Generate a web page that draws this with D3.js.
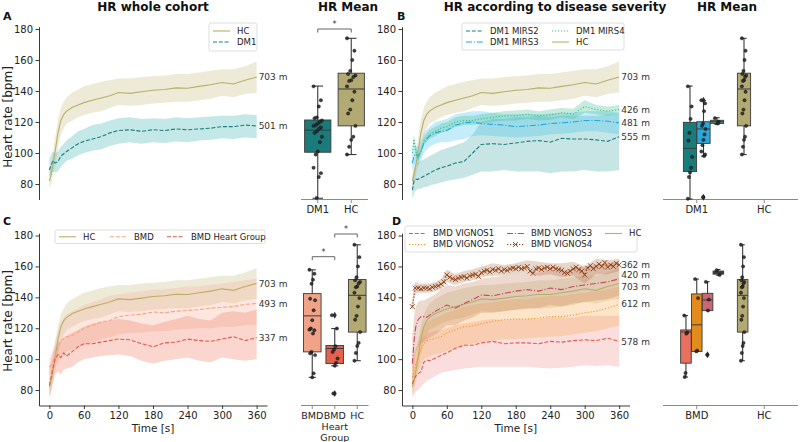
<!DOCTYPE html>
<html>
<head>
<meta charset="utf-8">
<script src="https://cdn.jsdelivr.net/npm/d3@7"></script>
<style>
  body { margin: 0; background: #fff; }
  svg { font-family: "DejaVu Sans", sans-serif; }
</style>
</head>
<body>
<div id="chart"></div>
<script>
// ---- time grids (s) ----
const T = [0, 3, 6, 10, 15, 20, 25, 30, 40, 50, 60, 75, 90, 105, 120, 140, 160, 180, 200, 220, 240, 260, 280, 300, 320, 340, 360];
const T5 = d3.range(0, 361, 5);
const yTicks = [80, 100, 120, 140, 160, 180];
const xTicks = [0, 60, 120, 180, 240, 300, 360];

// ---- HR curves (mean, lower band, upper band) ----
const hcMean = [82, 86, 92, 101, 113, 121, 125, 127, 129.5, 131, 132.5, 134, 135.5, 137, 139, 138.5, 139.5, 140.5, 141, 142, 141.8, 143, 144, 145.5, 144.5, 147, 149];
const hcHi = [87, 92, 99, 110, 122, 129, 133, 136, 139, 141, 143, 144.5, 146, 147, 148, 148, 149, 149.5, 150, 151, 151, 152, 153, 154, 154, 156, 159];
const hcLo = [77, 80, 85, 92, 103, 112, 116, 119, 121, 123, 124.5, 126, 127, 129, 131, 130.5, 131, 132, 132.5, 133, 133, 134, 135, 137, 136, 138, 139];

const dm1Mean = [89, 92, 95, 93.5, 94.5, 98, 99.5, 101, 103.5, 106, 107.5, 109, 110.5, 113, 114.5, 115, 114, 115, 114.5, 115.5, 115, 115.5, 116, 117, 117, 118, 117.5];
const dm1Hi = [97, 99, 101, 100, 101, 104, 106, 108, 111, 114, 115.5, 118, 119, 121, 122.5, 123, 122, 122.5, 122, 123, 122.5, 123, 123.5, 124, 124, 125, 124.5];
const dm1Lo = [85, 86, 88, 87.5, 88, 91, 93, 95, 96.5, 98.5, 100, 101.5, 102.5, 104.5, 106, 107, 106, 107, 106.5, 107.5, 107, 108, 108.5, 109.5, 109, 110, 109.5];

const mirs2Mean = [76, 82, 83, 83, 84, 85, 86, 87, 89, 90.5, 91.5, 93.5, 94.5, 100, 105.5, 106, 105.5, 106.5, 107.5, 108, 107, 109.5, 109, 109, 108.5, 107.5, 110.5];
const mirs2Hi = [84, 90, 93, 94, 95, 96, 97, 98, 100, 102, 103, 105, 107, 112, 120, 122, 122, 123, 123, 124, 123, 124, 124, 124, 124, 125, 125];
const mirs2Lo = [70, 74, 76, 77, 77, 78, 78, 79, 80, 81, 82, 83, 84, 86, 88, 88, 89, 88, 88, 88, 87, 88, 88, 89, 88, 88, 89];

const mirs3Mean = [93.5, 98, 99.5, 98, 101, 106.5, 109, 111, 113, 114, 114.5, 118, 119.5, 120, 119, 118.5, 118, 117, 117.5, 118, 119, 119.5, 120, 121, 121, 120.5, 119.5];
const mirs3Hi = [100, 104, 105, 104, 108, 113, 115, 117, 120, 121, 122, 125, 126, 127, 127, 126, 125, 125, 125, 125, 125.5, 126, 126, 127, 127, 127, 126];
const mirs3Lo = [88, 92, 94, 92, 95, 100, 102, 104, 106, 107, 107, 108, 109, 111, 111.5, 111, 110.5, 110, 110.5, 111, 112, 112.5, 113, 114, 114, 113, 112];

const mirs4Mean = [100, 109, 101, 97, 101, 108, 110, 112, 114, 116, 117, 120, 121, 121, 122, 123, 124, 124, 125, 124, 124.5, 126, 125, 130, 128, 127, 128];
const mirs4Hi = [103, 112, 104, 100, 104, 111, 113, 115, 117, 119, 120, 123, 124, 124, 125, 126, 127, 127.5, 128, 127, 128, 129, 128.5, 134, 131, 130, 131];
const mirs4Lo = [97, 106, 98, 94, 98, 105, 107, 109, 111, 113, 114, 117, 118, 118, 119, 120, 121, 121, 122, 121, 121.5, 123, 122, 126, 125, 124, 125];

const bmdMean = [95, 96, 98, 102.5, 107, 112, 113.5, 114.5, 115.5, 117.5, 120, 122, 124, 125, 127.5, 128.5, 129, 130.5, 130, 131, 131.5, 132, 133, 133.5, 134, 135.5, 136];
const bmdHi = [100, 103, 106, 112, 118, 124, 127, 129, 131, 133, 135, 137, 139, 141, 142, 143, 144, 145, 145, 146, 147, 147, 148, 149, 150, 151, 152];
const bmdLo = [90, 90, 92, 95, 98, 101, 103, 105, 106, 108, 109, 111, 113, 114, 116, 117, 117, 118, 118, 119, 119.5, 120, 120, 121, 121, 122, 122];

const bmdhgMean = [83, 88, 94, 100, 103, 101, 104, 102, 105, 108, 110, 110, 111, 112, 113, 112.5, 110, 108, 110.5, 111, 113, 112, 111.5, 113, 114.5, 112, 114];
const bmdhgHi = [95, 99, 104, 108, 111, 112, 114, 115, 117, 119, 121, 123, 124, 125, 126, 125, 123, 122, 124, 126, 128, 126, 125, 130, 131, 130, 132];
const bmdhgLo = [75, 78, 84, 90, 92, 90, 93, 94, 95, 98, 100, 101, 102, 102.5, 103, 102, 99, 97, 99, 100, 101, 99, 98, 101, 100, 99, 100];

const v1Mean = [84, 87, 89, 90.5, 92, 98, 99.5, 99, 100.5, 102.5, 104, 107, 109, 109, 110.5, 111.5, 110, 110.5, 110.5, 110, 111.5, 111, 112, 112.5, 112, 113.5, 111.5];
const v1Hi = [100, 104, 107, 110, 112, 115, 116, 117, 118, 119, 120, 122, 123, 124, 125, 126, 125, 126, 126, 126, 127, 127, 127, 128, 128, 128, 128];
const v1Lo = [75, 77, 79, 80, 82, 84, 86, 87, 89, 91, 92, 93, 94, 94.5, 95, 95, 95, 95, 95, 94.5, 94, 94.5, 95, 96, 95.5, 96, 95];

const v2Mean = [88.5, 92, 97, 101.5, 106, 110, 111.5, 112.5, 113.5, 114.5, 117, 119, 121, 121.5, 123, 124.5, 125.5, 126, 126, 126.5, 127.5, 127.5, 128.5, 130, 131, 133, 135.5];
const v2Hi = [95, 100, 106, 112, 118, 122, 124, 125, 127, 128, 130, 132, 134, 135, 136, 137, 138, 139, 139, 140, 141, 141, 142, 143, 144, 145, 147];
const v2Lo = [82, 85, 89, 92, 96, 100, 101, 102, 103, 104, 105, 107, 109, 110, 111, 112, 113, 113, 113.5, 114, 114.5, 115, 116, 117, 118, 120, 122];

const v3Mean = [97, 112, 121, 125.5, 127.5, 127.5, 127, 128.5, 131, 133, 135, 133, 136, 138.5, 141.5, 141, 142.5, 144, 145, 144, 146, 145, 147, 148, 149, 150, 152];
const v3Hi = [115, 128, 134, 137, 138, 138, 139, 140, 142, 145, 148, 147, 149, 150, 152, 153, 154, 155, 156, 156, 158, 157, 159, 160, 161, 162, 163];
const v3Lo = [80, 95, 104, 108, 110, 111, 112, 114, 116, 119, 122, 122, 125, 127, 130, 130, 131, 132, 133, 133, 135, 134, 136, 137, 138, 139, 141];

// VIGNOS4 mean is on the 5 s grid, its band on T
const v4Mean = [134, 146, 146, 145.5, 146, 146, 145.5, 146.5, 147, 147.5,
  148.5, 150, 154.5, 153, 152, 151.5, 152.5, 153, 153.5, 152.5,
  154, 154.5, 155, 153.5, 156, 157, 157.5, 156.5, 158, 157.5,
  158.5, 157, 158, 157.5, 158.5, 159, 158.5, 159.5, 158.5, 159,
  160, 157, 155.5, 158.5, 159, 158, 159, 159.5, 158.5, 159.5,
  158.5, 158, 157.5, 156, 155.5, 157, 158.5, 159.5, 158, 157,
  154.5, 159, 160.5, 158.5, 160, 161.5, 160, 162.5, 159.5, 161,
  160, 162, 161];
const v4Hi = [138, 148, 150, 149, 149, 149, 149, 149, 150, 152, 158, 155, 157, 158, 160, 162, 161, 162, 164, 163, 162, 162, 163, 160, 165, 164, 165];
const v4Lo = [130, 138, 142, 143, 143, 143, 143, 143, 144, 145, 150, 148, 150, 151, 153, 154, 154, 155, 156, 154, 155, 153, 154, 149, 155, 155, 157];

// ---- HR mean boxplots: [lower whisker, Q1, median, Q3, upper whisker] + subject points ----
const hcBox = [99, 117.5, 141.3, 151.5, 174];
const hcPts = [174, 166, 160, 153, 151, 150, 149, 147, 146.5, 143, 139.5, 134, 128, 125.5, 117.5, 110.5, 108.5, 104, 99];
const dm1Box = [70.8, 100.5, 114.8, 121.3, 143.2];
const dm1Pts = [143, 134, 130, 123, 122.5, 121, 120, 119, 118, 117.5, 116.5, 115.5, 114, 113, 110.5, 107, 101, 99, 90.5, 87, 84.5, 71];
const mirs2Box = [70.3, 88, 103, 119.8, 143.2];
const mirs2Pts = [143, 130, 122, 113, 108, 97.5, 90.5, 87.5, 84.5, 70.5];
const mirs3Box = [98, 106.2, 115.5, 120.2, 133.8];
const mirs3Pts = [134, 132, 127, 119, 117.5, 115.5, 112, 108.5, 105, 101, 99, 98, 71.5];
const mirs4Box = [118.5, 119.1, 120.2, 121.1, 122.8];
const mirs4Pts = [122.5, 120.2, 119];
const bmdBox = [88.2, 104.7, 128, 142.4, 157.8];
const bmdPts = [157.8, 155.3, 151.4, 148.8, 139.1, 138.1, 131.6, 125.2, 119.8, 119.1, 118.7, 116.6, 104.7, 103.7, 102.6, 90.8, 88.2];
const bmdhgBox = [95.7, 97.2, 106.9, 108.8, 119.8];
const bmdhgPts = [128.4, 119.8, 108.4, 106.2, 104.7, 100.4, 97.6, 95.7, 77.8];
const v1Box = [88.4, 97.4, 117.6, 118.9, 128.2];
const v1Pts = [128.2, 117.3, 116.5, 91, 88.4];
const v2Box = [105, 105, 122.2, 142.2, 151.8];
const v2Pts = [151.8, 139.5, 105.5, 105];
const v3Box = [131.4, 131.4, 138.3, 142.6, 150.1];
const v3Pts = [150, 138.5, 131.5, 102.8];
const v4Box = [154.2, 155, 155.9, 157, 158];
const v4Pts = [157.5, 154.5];

// ---- colours ----
const cHC = "#b8af67", cDM1 = "#1b7f80", cM3 = "#1ea8dc", cM4 = "#3dbd8e";
const cBMD = "#f4a582", cBHG = "#e05a4a", cV1 = "#e4584a", cV2 = "#f39a22", cV3 = "#c8465c", cV4 = "#8c3c12";

const svg = d3.select("#chart").append("svg").attr("width", 800).attr("height", 442);

const yTop = d3.scaleLinear().domain([70, 181.5]).range([199.5, 26.7]);
const yBot = d3.scaleLinear().domain([70, 181.5]).range([405.5, 233.2]);
const xLeft = d3.scaleLinear().domain([-18, 378]).range([39, 267]);
const xRight = d3.scaleLinear().domain([-18, 378]).range([402, 629.5]);

const dashed = "4,1.8", dotted = "1.2,1.8", dashdot = "6,1.8,1.2,1.8";

function styleAxis(a) {
  a.attr("font-family", "DejaVu Sans").attr("font-size", 10);
  a.select(".domain").attr("stroke", "#3a3a3a");
  a.selectAll(".tick line").attr("stroke", "#3a3a3a");
  a.selectAll(".tick text").attr("fill", "#222");
}

function xMark(sel, color) {
  sel.attr("d", "M-2.4,-2.4L2.4,2.4M-2.4,2.4L2.4,-2.4").attr("stroke", color).attr("stroke-width", 0.9).attr("fill", "none");
}

function linePanel(x, y, series, ends, showX) {
  const g = svg.append("g");
  series.forEach(s => {
    const tb = s.tb || s.t;
    g.append("path").datum(s.lo)
      .attr("d", d3.area().x((d, i) => x(tb[i])).y0(d => y(d)).y1((d, i) => y(s.hi[i])))
      .attr("fill", s.fill).attr("fill-opacity", s.op);
  });
  series.forEach(s => {
    g.append("path").datum(s.mean)
      .attr("d", d3.line().x((d, i) => x(s.t[i])).y(d => y(d)))
      .attr("fill", "none").attr("stroke", s.color).attr("stroke-width", 1.1)
      .attr("stroke-dasharray", s.dash);
    if (s.marker) {
      g.append("g").selectAll("path").data(s.mean).join("path")
        .attr("transform", (d, i) => `translate(${x(s.t[i])},${y(d)})`)
        .call(xMark, s.color);
    }
  });
  ends.forEach(([s, txt, off]) => {
    g.append("text").attr("x", x(360) + 2).attr("y", y(s.mean[s.mean.length - 1]) + (off || 0))
      .attr("dy", "0.35em").attr("font-size", 9).attr("fill", "#333").text(txt);
  });
  const ya = g.append("g").attr("transform", `translate(${x.range()[0]},0)`)
    .call(d3.axisLeft(y).tickValues(yTicks).tickSize(3.5).tickSizeOuter(0).tickPadding(2.5));
  styleAxis(ya);
  if (showX) {
    const xa = g.append("g").attr("transform", `translate(0,${y.range()[0]})`)
      .call(d3.axisBottom(x).tickValues(xTicks).tickSize(3.5).tickSizeOuter(0).tickPadding(2.5));
    styleAxis(xa);
    g.append("text").attr("x", (x(0) + x(360)) / 2).attr("y", y.range()[0] + 26)
      .attr("text-anchor", "middle").attr("font-size", 10.5).attr("fill", "#222").text("Time [s]");
  }
}

function legend(x0, y0, w, h, items) {
  const g = svg.append("g").attr("transform", `translate(${x0},${y0})`);
  g.append("rect").attr("width", w).attr("height", h).attr("rx", 2)
    .attr("fill", "#fff").attr("fill-opacity", 0.85).attr("stroke", "#d6d6d6").attr("stroke-width", 0.8);
  items.forEach(it => {
    const gi = g.append("g").attr("transform", `translate(${it.dx},${it.dy})`);
    gi.append("line").attr("x1", 0).attr("x2", 17).attr("stroke", it.color)
      .attr("stroke-width", 1.1).attr("stroke-dasharray", it.dash);
    if (it.marker) gi.append("path").attr("transform", "translate(8.5,0)").call(xMark, it.color);
    gi.append("text").attr("x", 24).attr("dy", "0.35em").attr("font-size", 8.5).attr("fill", "#222").text(it.label);
  });
}

function boxPanel(xr, y, cats, nHue, groups, brackets, catLines) {
  const x = d3.scaleLinear().domain([-0.5, cats.length - 0.5]).range(xr);
  const unit = x(1) - x(0);
  const axisY = y.range()[0];
  const g = svg.append("g");
  g.append("line").attr("x1", xr[0]).attr("x2", xr[1]).attr("y1", axisY).attr("y2", axisY)
    .attr("stroke", "#8a8a8a").attr("stroke-width", 1);
  cats.forEach((c, i) => {
    g.append("line").attr("x1", x(i)).attr("x2", x(i)).attr("y1", axisY).attr("y2", axisY + 3.5).attr("stroke", "#8a8a8a");
    (catLines[i] || [c]).forEach((ln, j) => {
      g.append("text").attr("x", x(i)).attr("y", axisY + 13.5 + j * 10.8)
        .attr("text-anchor", "middle").attr("font-size", cats.length > 2 ? 9.5 : 10).attr("fill", "#222").text(ln);
    });
  });
  const slot = 0.8 / nHue;
  groups.forEach(gp => {
    const cx = x(gp.cat + (gp.hue - (nHue - 1) / 2) * slot);
    const w = slot * unit * 0.98;
    const [wlo, q1, med, q3, whi] = gp.box;
    const st = "#3a3a3a";
    g.append("line").attr("x1", cx).attr("x2", cx).attr("y1", y(wlo)).attr("y2", y(whi)).attr("stroke", st).attr("stroke-width", 1.1);
    [wlo, whi].forEach(v => g.append("line").attr("x1", cx - w * 0.2).attr("x2", cx + w * 0.2)
      .attr("y1", y(v)).attr("y2", y(v)).attr("stroke", st).attr("stroke-width", 1.1));
    g.append("rect").attr("x", cx - w / 2).attr("width", w).attr("y", y(q3)).attr("height", Math.max(y(q1) - y(q3), 1))
      .attr("fill", gp.color).attr("stroke", st).attr("stroke-width", 0.9);
    g.append("line").attr("x1", cx - w / 2).attr("x2", cx + w / 2).attr("y1", y(med)).attr("y2", y(med)).attr("stroke", st).attr("stroke-width", 1);
    gp.pts.filter(v => v < wlo - 0.05 || v > whi + 0.05).forEach(v => {
      g.append("path").attr("transform", `translate(${cx},${y(v)})`)
        .attr("d", d3.symbol(d3.symbolDiamond, 14)).attr("fill", "#333");
    });
    const amp = w * 0.16;
    g.append("g").selectAll("circle").data(gp.pts).join("circle")
      .attr("cx", (d, i) => cx + ((i * 7) % 9 - 4) / 4 * amp)
      .attr("cy", d => y(d)).attr("r", 1.7)
      .attr("fill", "#2a2a2a").attr("fill-opacity", 0.9).attr("stroke", "#000").attr("stroke-width", 0.3);
  });
  brackets.forEach(b => {
    const x1 = x(b.a), x2 = x(b.b);
    g.append("path").attr("d", `M${x1},${b.y + 3.5}V${b.y}H${x2}V${b.y + 3.5}`)
      .attr("fill", "none").attr("stroke", "#555").attr("stroke-width", 0.9);
    g.append("text").attr("x", (x1 + x2) / 2).attr("y", b.y - 2).attr("text-anchor", "middle")
      .attr("font-size", 8).attr("fill", "#333").text("*");
  });
}

// ---- series definitions ----
const sHC = { t: T, mean: hcMean, lo: hcLo, hi: hcHi, color: cHC, fill: cHC, op: 0.26, dash: null };
const sDM1 = { t: T, mean: dm1Mean, lo: dm1Lo, hi: dm1Hi, color: cDM1, fill: "#3aafb0", op: 0.3, dash: dashed };
const sM2 = { t: T, mean: mirs2Mean, lo: mirs2Lo, hi: mirs2Hi, color: cDM1, fill: "#4aa8a8", op: 0.3, dash: dashed };
const sM3 = { t: T, mean: mirs3Mean, lo: mirs3Lo, hi: mirs3Hi, color: cM3, fill: "#3cc0ee", op: 0.3, dash: dashdot };
const sM4 = { t: T, mean: mirs4Mean, lo: mirs4Lo, hi: mirs4Hi, color: cM4, fill: cM4, op: 0.3, dash: dotted };
const sBMD = { t: T, mean: bmdMean, lo: bmdLo, hi: bmdHi, color: cBMD, fill: "#f7b8a2", op: 0.35, dash: dashed };
const sBHG = { t: T, mean: bmdhgMean, lo: bmdhgLo, hi: bmdhgHi, color: cBHG, fill: "#f08a72", op: 0.35, dash: dashed };
const sV1 = { t: T, mean: v1Mean, lo: v1Lo, hi: v1Hi, color: cV1, fill: "#f09090", op: 0.3, dash: dashed };
const sV2 = { t: T, mean: v2Mean, lo: v2Lo, hi: v2Hi, color: cV2, fill: "#f7a850", op: 0.3, dash: dotted };
const sV3 = { t: T, mean: v3Mean, lo: v3Lo, hi: v3Hi, color: cV3, fill: "#c8805e", op: 0.3, dash: dashdot };
const sV4 = { t: T5, tb: T, mean: v4Mean, lo: v4Lo, hi: v4Hi, color: cV4, fill: "#a86a40", op: 0.28, dash: dotted, marker: true };

// ---- panel A ----
linePanel(xLeft, yTop, [sHC, sDM1], [[sHC, "703 m"], [sDM1, "501 m"]], false);
legend(209, 23, 48, 28, [
  { label: "HC", color: cHC, dx: 4, dy: 8 },
  { label: "DM1", color: cDM1, dash: dashed, dx: 4, dy: 19 }
]);
boxPanel([301, 368], yTop, ["DM1", "HC"], 1, [
  { cat: 0, hue: 0, box: dm1Box, pts: dm1Pts, color: "#1b7a7a" },
  { cat: 1, hue: 0, box: hcBox, pts: hcPts, color: "#b2aa72" }
], [{ a: 0, b: 1, y: 29 }], []);

// ---- panel B ----
linePanel(xRight, yTop, [sHC, sM2, sM3, sM4], [[sHC, "703 m"], [sM4, "426 m"], [sM3, "481 m"], [sM2, "555 m"]], false);
legend(462, 23, 162, 27, [
  { label: "DM1 MIRS2", color: cDM1, dash: dashed, dx: 4, dy: 8 },
  { label: "DM1 MIRS3", color: cM3, dash: dashdot, dx: 4, dy: 19 },
  { label: "DM1 MIRS4", color: cM4, dash: dotted, dx: 90, dy: 8 },
  { label: "HC", color: cHC, dx: 90, dy: 19 }
]);
boxPanel([663, 798], yTop, ["DM1", "HC"], 4, [
  { cat: 1, hue: 0, box: hcBox, pts: hcPts, color: "#b2aa72" },
  { cat: 0, hue: 1, box: mirs2Box, pts: mirs2Pts, color: "#1b7a7a" },
  { cat: 0, hue: 2, box: mirs3Box, pts: mirs3Pts, color: "#2ba6d8" },
  { cat: 0, hue: 3, box: mirs4Box, pts: mirs4Pts, color: "#4a9a7e" }
], [], []);

// ---- panel C ----
linePanel(xLeft, yBot, [sHC, sBMD, sBHG], [[sHC, "703 m"], [sBMD, "493 m"], [sBHG, "337 m"]], true);
legend(55, 230, 210, 13.5, [
  { label: "HC", color: cHC, dx: 4, dy: 6.8 },
  { label: "BMD", color: cBMD, dash: dashed, dx: 55, dy: 6.8 },
  { label: "BMD Heart Group", color: cBHG, dash: dashed, dx: 112, dy: 6.8 }
]);
boxPanel([301, 368.5], yBot, ["BMD", "BMD Heart Group", "HC"], 1, [
  { cat: 0, hue: 0, box: bmdBox, pts: bmdPts, color: "#f0a386" },
  { cat: 1, hue: 0, box: bmdhgBox, pts: bmdhgPts, color: "#e2624e" },
  { cat: 2, hue: 0, box: hcBox, pts: hcPts, color: "#b2aa72" }
], [{ a: 0, b: 1, y: 256.7 }, { a: 1, b: 2, y: 234 }], [null, ["BMD", "Heart", "Group"], null]);

// ---- panel D ----
linePanel(xRight, yBot, [sHC, sV1, sV2, sV3, sV4],
  [[sV4, "362 m"], [sV3, "420 m", -3.5], [sHC, "703 m", 3.5], [sV2, "612 m"], [sV1, "578 m"]], true);
legend(405, 226, 232, 26, [
  { label: "BMD VIGNOS1", color: cV1, dash: dashed, dx: 4, dy: 7.5 },
  { label: "BMD VIGNOS2", color: cV2, dash: dotted, dx: 4, dy: 18.5 },
  { label: "BMD VIGNOS3", color: cV3, dash: dashdot, dx: 102, dy: 7.5 },
  { label: "BMD VIGNOS4", color: cV4, dash: dotted, marker: true, dx: 102, dy: 18.5 },
  { label: "HC", color: cHC, dx: 200, dy: 7.5 }
]);
boxPanel([663, 798], yBot, ["BMD", "HC"], 5, [
  { cat: 1, hue: 0, box: hcBox, pts: hcPts, color: "#b2aa72" },
  { cat: 0, hue: 1, box: v1Box, pts: v1Pts, color: "#e8705c" },
  { cat: 0, hue: 2, box: v2Box, pts: v2Pts, color: "#e38c1e" },
  { cat: 0, hue: 3, box: v3Box, pts: v3Pts, color: "#c86872" },
  { cat: 0, hue: 4, box: v4Box, pts: v4Pts, color: "#5b3a2c" }
], [], []);

// ---- titles, panel letters, y labels ----
const titles = [["HR whole cohort", 153], ["HR Mean", 348], ["HR according to disease severity", 555], ["HR Mean", 727]];
titles.forEach(([t, x]) => svg.append("text").attr("x", x).attr("y", 10.5).attr("text-anchor", "middle")
  .attr("font-size", 12).attr("font-weight", "bold").attr("fill", "#111").text(t));
[["A", 3, 20], ["B", 397, 20], ["C", 3, 225], ["D", 392, 225]].forEach(([t, x, y]) =>
  svg.append("text").attr("x", x).attr("y", y).attr("font-size", 11).attr("font-weight", "bold").attr("fill", "#111").text(t));
[117, 321].forEach(cy => svg.append("text").attr("transform", `translate(12,${cy}) rotate(-90)`)
  .attr("text-anchor", "middle").attr("font-size", 12).attr("fill", "#222").text("Heart rate [bpm]"));
</script>
</body>
</html>
